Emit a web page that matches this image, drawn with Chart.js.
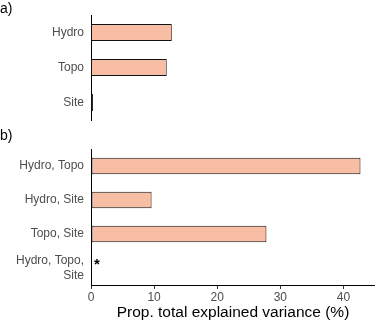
<!DOCTYPE html>
<html>
<head>
<meta charset="utf-8">
<script src="https://cdn.jsdelivr.net/npm/chart.js@4"></script>
<style>
  body { margin: 0; background: #fff; }
  #wrap { position: relative; width: 375px; height: 323px; }
  canvas { position: absolute; left: 0; top: 0; }
  .tag { position: absolute; left: 0; font: 14px "Liberation Sans", Arial, sans-serif; color: #000; }
</style>
</head>
<body>
<div id="wrap">
  <canvas id="painelA" width="375" height="323"></canvas>
  <canvas id="painelB" width="375" height="323"></canvas>
  <div class="tag" style="top:0px">a)</div>
  <div class="tag" style="top:127px">b)</div>
</div>
<script>
const rotulosA = ["Hydro", "Topo", "Site"];
const valoresA = [12.8, 12.0, 0.3];
const rotulosB = ["Hydro, Topo", "Hydro, Site", "Topo, Site", ["Hydro, Topo,", "Site"]];
const valoresB = [42.7, 9.6, 27.8, 0];
const asteriscosB = [false, false, false, true];
const ticksX = [0, 10, 20, 30, 40];

const corBarra = '#F7BEA5';
const corTexto = '#4d4d4d';
const fonte = "'Liberation Sans', Arial, sans-serif";

const asterisco = {
    id: 'asterisco',
    afterDatasetsDraw(chart) {
        const marcas = chart.options.plugins.asterisco.marcas || [];
        const ctx = chart.ctx;
        ctx.save();
        ctx.fillStyle = '#000';
        ctx.font = "bold 15px " + fonte;
        ctx.textAlign = 'center';
        ctx.textBaseline = 'middle';
        marcas.forEach((m, i) => {
            if (!m) return;
            const x = chart.scales.x.getPixelForValue(0) + 6;
            const y = chart.scales.y.getPixelForValue(i) - 3;
            ctx.fillText('*', x, y);
        });
        ctx.restore();
    }
};

function eixoY() {
    return {
        ticks: { color: corTexto, font: { family: fonte, size: 12, lineHeight: 1.25 }, padding: 7, crossAlign: 'near' },
        grid: { display: false, drawTicks: false },
        border: { display: true, color: '#000', width: 1 },
        afterFit: s => { s.width = 91; }
    };
}

function dataset(valores) {
    return {
        data: valores,
        backgroundColor: corBarra,
        borderColor: '#111',
        borderWidth: 1,
        borderSkipped: false,
        barPercentage: 0.48,
        categoryPercentage: 1
    };
}

new Chart(document.getElementById("painelA"), {
    type: 'bar',
    data: { labels: rotulosA, datasets: [dataset(valoresA)] },
    options: {
        indexAxis: 'y',
        responsive: false,
        animation: false,
        layout: { padding: { left: 0, right: 0, top: 15, bottom: 203 } },
        plugins: { legend: { display: false }, tooltip: { enabled: false } },
        scales: {
            x: { display: false, min: 0, max: 45 },
            y: eixoY()
        }
    }
});

new Chart(document.getElementById("painelB"), {
    type: 'bar',
    data: { labels: rotulosB, datasets: [dataset(valoresB)] },
    options: {
        indexAxis: 'y',
        responsive: false,
        animation: false,
        layout: { padding: { left: 0, right: 0, top: 149, bottom: 0 } },
        plugins: { legend: { display: false }, tooltip: { enabled: false }, asterisco: { marcas: asteriscosB } },
        scales: {
            x: {
                min: 0,
                max: 45,
                afterBuildTicks: s => { s.ticks = ticksX.map(v => ({ value: v })); },
                ticks: { color: corTexto, font: { family: fonte, size: 12 }, padding: 1 },
                grid: { display: true, drawOnChartArea: false, tickLength: 4, color: '#333' },
                border: { display: true, color: '#000', width: 1 },
                title: { display: true, text: 'Prop. total explained variance (%)', color: '#000', font: { family: fonte, size: 15.5 }, padding: { top: 0, bottom: 1 } },
                afterFit: s => { s.height = 38; }
            },
            y: eixoY()
        }
    },
    plugins: [asterisco]
});
</script>
</body>
</html>
